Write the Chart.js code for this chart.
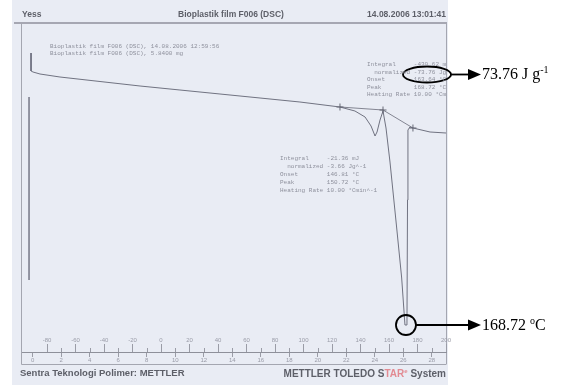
<!DOCTYPE html>
<html>
<head>
<meta charset="utf-8">
<script src="https://cdn.jsdelivr.net/npm/chart.js@4.4.0/dist/chart.umd.min.js"></script>
<style>
  html, body { margin: 0; padding: 0; background: #fff; }
  #wrap { position: relative; width: 565px; height: 385px; overflow: hidden; }
  canvas { position: absolute; left: 0; top: 0; }
  .txt { position: absolute; white-space: pre; line-height: 1; }
  .hdr { font-family: "Liberation Sans", Arial, sans-serif; font-weight: bold; color: #5d5f68; font-size: 8.5px; filter: blur(0.35px); }
  .mono { font-family: "Liberation Mono", "DejaVu Sans Mono", monospace; font-size: 6px; color: #8e909c; filter: blur(0.3px); }
  .note { font-family: "Liberation Serif", "Times New Roman", serif; font-size: 16px; color: #000; }
  .note sup { font-size: 10px; vertical-align: 6px; line-height: 0; }
  #clip { position: absolute; left: 0; top: 0; width: 446px; height: 385px; overflow: hidden; }
</style>
</head>
<body>
<div id="wrap">
  <canvas id="dsc" width="565" height="385"></canvas>
  <div id="clip">
    <div class="txt hdr" style="left:22px; top:10px;">Yess</div>
    <div class="txt hdr" style="left:231px; top:10px; transform:translateX(-50%);">Bioplastik film F006 (DSC)</div>
    <div class="txt hdr" style="right:0px; top:10px;">14.08.2006 13:01:41</div>
    <div class="txt mono" style="left:50px; top:43px; line-height:7px;" id="sampleInfo"></div>
    <div class="txt mono" style="left:367px; top:61px; line-height:7.5px;" id="bigPeak"></div>
    <div class="txt mono" style="left:280px; top:155px; line-height:8px;" id="smallPeak"></div>
    <div class="txt hdr" style="left:20px; top:368px; font-size:9.5px;">Sentra Teknologi Polimer: METTLER</div>
    <div class="txt hdr" style="right:0px; top:368px; font-size:10px;">METTLER TOLEDO S<span style="color:#e28a92">TAR<sup style="font-size:6px">e</sup></span> System</div>
  </div>
  <div class="txt note" style="left:482px; top:66px;">73.76 J g<sup>-1</sup></div>
  <div class="txt note" style="left:482px; top:317px;">168.72 <sup>o</sup>C</div>
</div>
<script>
// DSC curve (temperature in °C, heat flow in mW)
const tempC = [-91.2, -91.2, -89.8, -84.9, -70.9, -42.8, -14.7, 13.3, 41.4, 69.5, 97.5,
               125.6, 136.1, 143.2, 147.4, 150.2, 151.6, 153.7, 155.8, 157.9, 160.7,
               165.4, 168.9, 171.2, 172.6, 173.0, 173.3, 174.7, 176.8, 188.8, 200.0];
const heatFlow = [-2.9, -4.7, -4.8, -5.0, -5.3, -5.75, -6.2, -6.6, -7.0, -7.4, -7.8,
                  -8.3, -8.7, -9.3, -10.2, -11.2, -10.8, -9.6, -8.7, -10.4, -13.8,
                  -20.4, -25.4, -30.1, -30.1, -17.6, -10.6, -10.3, -10.4, -10.8, -10.9];

// integration baselines with their limit markers
const baseTempC = [125.6, 155.8, 176.8];
const baseFlow = [-8.3, -8.6, -10.4];

// ^exo scale bar on the left
const barTempC = [-92.6, -92.6];
const barFlow = [-7.3, -25.6];

// axis ticks
const tempTicks = [-80, -60, -40, -20, 0, 20, 40, 60, 80, 100, 120, 140, 160, 180, 200];
const timeTicks = [0, 2, 4, 6, 8, 10, 12, 14, 16, 18, 20, 22, 24, 26, 28];
const heatingRate = 10;   // K/min
const startTemp = -90;    // °C at t = 0

// evaluation texts printed on the thermogram
const sampleLines = ['Bioplastik film F006 (DSC), 14.08.2006 12:59:56',
                     'Bioplastik film F006 (DSC), 5.8400 mg'];
const resultLabels = ['Integral', '  normalized', 'Onset', 'Peak', 'Heating Rate'];
const bigPeakValues = ['-430.62 mJ', '-73.76 Jg^-1', '163.64 °C', '168.72 °C', '10.00 °Cmin^-1'];
const smallPeakValues = ['-21.36 mJ', '-3.66 Jg^-1', '146.81 °C', '150.72 °C', '10.00 °Cmin^-1'];

const block = (vals) => resultLabels.map((l, i) => l.padEnd(13) + vals[i]).join('\n');
document.getElementById('sampleInfo').textContent = sampleLines.join('\n');
document.getElementById('bigPeak').textContent = block(bigPeakValues);
document.getElementById('smallPeak').textContent = block(smallPeakValues);

const toXY = (xs, ys) => xs.map((x, i) => ({x: x, y: ys[i]}));

const tMin = -97.54, tMax = 200.0;

// paper of the scan, frame and the upward °C ticks
const paperPlugin = {
    id: 'paper',
    beforeDraw(chart) {
        const ctx = chart.ctx;
        ctx.save();
        ctx.fillStyle = '#ffffff';
        ctx.fillRect(0, 0, chart.width, chart.height);
        ctx.fillStyle = '#e9ecf4';
        ctx.fillRect(12, 0, 436, 385);
        ctx.strokeStyle = '#8f919c';
        ctx.lineWidth = 1.5;
        ctx.beginPath();
        ctx.moveTo(14, 23); ctx.lineTo(447, 23);
        ctx.stroke();
        ctx.lineWidth = 1;
        ctx.strokeStyle = '#a4a6b0';
        ctx.beginPath();
        ctx.moveTo(21.5, 23); ctx.lineTo(21.5, 364.5); ctx.lineTo(446, 364.5);
        ctx.moveTo(446.5, 23); ctx.lineTo(446.5, 364.5);
        ctx.stroke();

        const x = chart.scales.x;
        ctx.strokeStyle = '#9a9ca6';
        ctx.beginPath();
        tempTicks.forEach(v => {
            const px = Math.round(x.getPixelForValue(v)) + 0.5;
            ctx.moveTo(px, 344); ctx.lineTo(px, 352);
            const pm = Math.round(x.getPixelForValue(v + 10)) + 0.5;
            if (v + 10 < tMax) { ctx.moveTo(pm, 348); ctx.lineTo(pm, 352); }
        });
        ctx.stroke();
        ctx.restore();
    },
    afterDraw(chart) {
        // hand-drawn annotations: circle on the melting peak, ellipse round the enthalpy
        const ctx = chart.ctx;
        const x = chart.scales.x, y = chart.scales.y;
        let iMin = 0;
        heatFlow.forEach((v, i) => { if (v < heatFlow[iMin]) iMin = i; });
        const cx = x.getPixelForValue(tempC[iMin]) + 1;
        const cy = y.getPixelForValue(heatFlow[iMin]);
        ctx.save();
        ctx.strokeStyle = '#000';
        ctx.fillStyle = '#000';
        ctx.lineWidth = 1.8;
        ctx.beginPath();
        ctx.arc(cx, cy, 10, 0, Math.PI * 2);
        ctx.stroke();
        ctx.beginPath();
        ctx.ellipse(427, 74.5, 24, 8, 0, 0, Math.PI * 2);
        ctx.stroke();
        const arrow = (x0, yy) => {
            ctx.beginPath();
            ctx.moveTo(x0, yy); ctx.lineTo(470, yy);
            ctx.stroke();
            ctx.beginPath();
            ctx.moveTo(481, yy); ctx.lineTo(468, yy - 5.5); ctx.lineTo(468, yy + 5.5);
            ctx.closePath();
            ctx.fill();
        };
        arrow(451, 74.5);
        arrow(cx + 10, cy);
        ctx.restore();
    }
};

new Chart(document.getElementById('dsc').getContext('2d'), {
    type: 'line',
    data: {
        datasets: [{
            data: toXY(tempC, heatFlow),
            borderColor: 'rgba(105, 108, 122, 0.95)',
            borderWidth: 1,
            pointRadius: 0,
            tension: 0
        }, {
            data: toXY(baseTempC, baseFlow),
            borderColor: 'rgba(120, 122, 135, 0.9)',
            borderWidth: 1,
            pointStyle: 'cross',
            pointRadius: 3.5,
            pointBorderWidth: 1,
            pointBorderColor: 'rgba(90, 92, 105, 0.9)',
            tension: 0
        }, {
            data: toXY(barTempC, barFlow),
            borderColor: 'rgba(130, 132, 145, 0.9)',
            borderWidth: 1,
            pointRadius: 0
        }]
    },
    options: {
        responsive: false,
        animation: false,
        devicePixelRatio: 1,
        events: [],
        layout: { padding: { left: 22, right: 119, top: 24, bottom: 21 } },
        plugins: { legend: { display: false }, tooltip: { enabled: false } },
        scales: {
            x: {
                type: 'linear',
                position: 'bottom',
                weight: 0,
                min: tMin,
                max: tMax,
                afterBuildTicks: (scale) => { scale.ticks = tempTicks.map(v => ({value: v})); },
                afterFit: (scale) => { scale.height = 18; },
                grid: { display: false, drawTicks: false },
                border: { display: false },
                ticks: {
                    autoSkip: false, maxRotation: 0, minRotation: 0, padding: 3,
                    color: '#9a9ca8',
                    font: { family: 'Liberation Sans', size: 6 }
                }
            },
            x2: {
                type: 'linear',
                position: 'bottom',
                weight: 1,
                min: (tMin - startTemp) / heatingRate,
                max: (tMax - startTemp) / heatingRate,
                afterBuildTicks: (scale) => { scale.ticks = timeTicks.map(v => ({value: v})); },
                afterFit: (scale) => { scale.height = 12; },
                grid: { display: true, drawOnChartArea: false, drawTicks: true, tickLength: 5, color: '#9a9ca6' },
                border: { display: true, color: '#8e909a', width: 1 },
                ticks: {
                    autoSkip: false, maxRotation: 0, minRotation: 0, padding: 0,
                    color: '#9a9ca8',
                    font: { family: 'Liberation Sans', size: 6 }
                }
            },
            y: {
                type: 'linear',
                display: false,
                min: -31,
                max: 0
            }
        }
    },
    plugins: [paperPlugin]
});
</script>
</body>
</html>
